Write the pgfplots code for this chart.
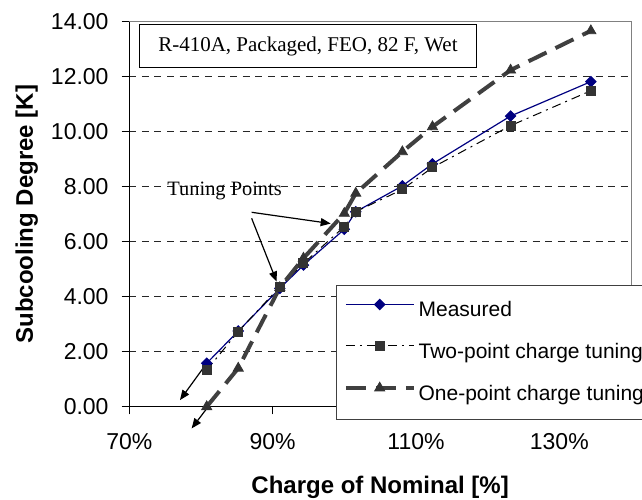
\documentclass[border=0pt]{standalone}
\usepackage{fontspec}
\setmainfont{Liberation Sans}
\newfontfamily\timesf{Liberation Serif}
\usepackage{pgfplots}
\pgfplotsset{compat=1.18}
\usetikzlibrary{arrows.meta}

\definecolor{measblue}{RGB}{0,0,128}
\definecolor{markgray}{RGB}{51,51,51}
\definecolor{onegray}{RGB}{64,64,64}

\begin{document}
\begin{tikzpicture}
\begin{axis}[
  at={(0,0)}, anchor=south west,
  scale only axis, width=250.85pt, height=192.5pt,
  xmin=70, xmax=140, ymin=0, ymax=14,
  xtick={70,90,110,130}, xticklabels={70\%,90\%,110\%,130\%},
  ytick={0,2,...,14},
  yticklabels={0.00,2.00,4.00,6.00,8.00,10.00,12.00,14.00},
  xtick pos=bottom, ytick pos=left,
  tick align=outside, major tick length=3.85pt,
  tick style={black, line width=0.5pt},
  ticklabel style={font=\fontsize{11.5}{13}\selectfont},
  yticklabel style={xshift=-3pt},
  xticklabel style={yshift=-6pt},
  extra y ticks={2,4,...,12}, extra y tick labels={},
  extra y tick style={ymajorgrids, major tick length=0pt},
  grid style={black!85, line width=0.5pt, dash pattern=on 3.5pt off 2.8pt},
  axis line style={gray, line width=0.5pt},
  clip=false,
  xlabel={Charge of Nominal [\%]},
  ylabel={Subcooling Degree [K]},
  label style={font=\fontsize{12}{14}\selectfont\bfseries},
  xlabel style={at={(axis description cs:0.5,-0.2265)}, anchor=base},
  ylabel style={at={(axis description cs:-0.192,0.5)}, anchor=base},
  legend cell align=left,
  legend image code/.code={
    \draw[#1, mark repeat=2, mark phase=2]
      plot coordinates {(0pt,3.7pt) (16.95pt,3.7pt) (33.9pt,3.7pt)};},
  legend style={at={(axis description cs:0.4114,0.3161)}, anchor=north west,
    draw=black!75, line width=0.5pt, fill=white,
    inner xsep=3.8pt, inner ysep=7pt, row sep=9.6pt,
    font=\fontsize{10.5}{12}\selectfont,
    nodes={inner sep=0pt, text height=7.5pt, text depth=2.5pt},
    /tikz/every odd column/.append style={column sep=1.5pt}},
]
% black left and bottom axis lines (plot area border is gray)
\draw[black, line width=0.6pt] (rel axis cs:0,1) -- (rel axis cs:0,0) -- (rel axis cs:1,0);

\addplot[measblue, line width=0.6pt, mark=square*, mark size=1.77pt,
  mark options={solid, rotate=45, fill=measblue}] coordinates {
(80.8,1.58)(85.2,2.75)(91.0,4.30)(94.3,5.15)(100.0,6.45)
(101.6,7.09)(108.1,8.03)(112.3,8.83)(123.2,10.57)(134.4,11.82)};
\addlegendentry{Measured}

\addplot[black, line width=0.5pt, dash pattern=on 4.5pt off 2.5pt on 1pt off 2.5pt,
  mark=square*, mark size=2.25pt,
  mark options={solid, draw=markgray, fill=markgray}] coordinates {
(80.8,1.33)(85.2,2.73)(91.0,4.36)(94.3,5.21)(100.0,6.55)
(101.6,7.09)(108.1,7.90)(112.3,8.70)(123.2,10.22)(134.4,11.49)};
\addlegendentry{Two-point charge tuning}

\addplot[onegray, line width=2pt, dash pattern=on 10pt off 5pt,
  mark=triangle*, mark size=2.9pt,
  mark options={solid, line width=0.4pt, draw=markgray, fill=markgray}] coordinates {
(80.8,0.00)(85.2,1.40)(91.0,4.33)(94.3,5.40)(100.0,7.03)
(101.6,7.76)(108.1,9.27)(112.3,10.18)(123.2,12.24)(134.4,13.67)};
\addlegendentry{One-point charge tuning}

\node[draw=black, line width=0.65pt, fill=white, minimum width=168.8pt,
  minimum height=21.7pt, inner sep=0pt, font=\timesf\fontsize{10.5}{12}\selectfont]
  at (axis cs:94.93,13.116) {R-410A, Packaged, FEO, 82 F, Wet};
\node[font=\timesf\fontsize{10.2}{12}\selectfont] at (axis cs:83.3,7.85) {Tuning Points};

\draw[-{Triangle[length=5pt,width=4pt]}, line width=0.6pt]
  (axis cs:87.07,7.07) -- (axis cs:98.1,6.66);
\draw[-{Triangle[length=5pt,width=4pt]}, line width=0.6pt]
  (axis cs:87.07,6.85) -- (axis cs:90.56,4.55);
\draw[-{Triangle[length=5pt,width=4pt]}, line width=0.6pt]
  (axis cs:80.8,1.58) -- (axis cs:77.07,0.24);
\draw[-{Triangle[length=5pt,width=4pt]}, line width=0.6pt]
  (axis cs:81.0,0.0) -- (axis cs:78.7,-0.79);
\end{axis}
\pgfresetboundingbox
\path[use as bounding box] (-64.65pt,-46.15pt) rectangle (256.35pt,203.35pt);
\end{tikzpicture}
\end{document}
